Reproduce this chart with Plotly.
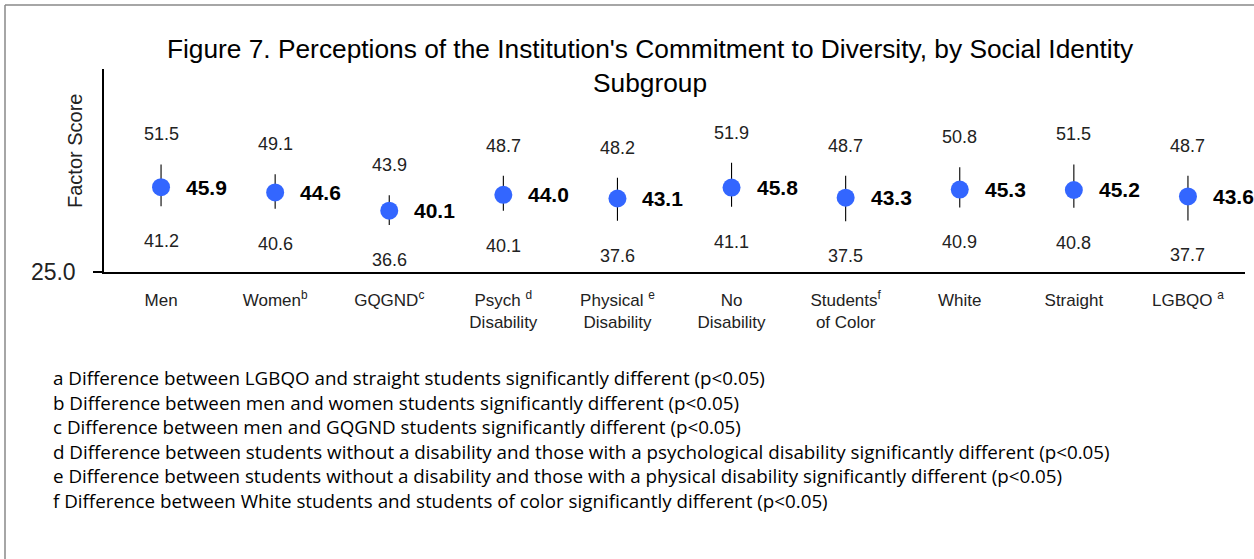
import plotly.graph_objects as go

categories = ["Men", "Women", "GQGND", "Psych Disability", "Physical Disability",
              "No Disability", "Students of Color", "White", "Straight", "LGBQO"]
tick_labels = ["Men", "Women<sup>b</sup>", "GQGND<sup>c</sup>", "Psych <sup>d</sup><br>Disability",
               "Physical <sup>e</sup><br>Disability", "No<br>Disability",
               "Students<sup>f</sup><br>of Color", "White", "Straight", "LGBQO <sup>a</sup>"]
means = [45.9, 44.6, 40.1, 44.0, 43.1, 45.8, 43.3, 45.3, 45.2, 43.6]
upper = [51.5, 49.1, 43.9, 48.7, 48.2, 51.9, 48.7, 50.8, 51.5, 48.7]
lower = [41.2, 40.6, 36.6, 40.1, 37.6, 41.1, 37.5, 40.9, 40.8, 37.7]

footnotes = [
    "a Difference between LGBQO and straight students significantly different (p<0.05)",
    "b Difference between men and women students significantly different (p<0.05)",
    "c Difference between men and GQGND students significantly different (p<0.05)",
    "d Difference between students without a disability and those with a psychological disability significantly different (p<0.05)",
    "e Difference between students without a disability and those with a physical disability significantly different (p<0.05)",
    "f Difference between White students and students of color significantly different (p<0.05)",
]

FONT = "Liberation Sans, Arial, sans-serif"
NOTE_FONT = "Open Sans, sans-serif"
W, H = 1254, 559
x = list(range(len(categories)))

fig = go.Figure()
fig.add_trace(go.Scatter(
    x=x, y=means, mode="markers",
    marker=dict(color="#3366FF", size=18),
    error_y=dict(type="data", symmetric=False,
                 array=[u - m for u, m in zip(upper, means)],
                 arrayminus=[m - l for m, l in zip(means, lower)],
                 color="black", thickness=1.1, width=0),
    showlegend=False, hoverinfo="skip",
))

annotations = []
for i in x:
    annotations.append(dict(x=i, y=upper[i], text=f"{upper[i]:.1f}", showarrow=False,
                            yshift=30, yanchor="middle",
                            font=dict(family=FONT, size=18, color="#222")))
    annotations.append(dict(x=i, y=lower[i], text=f"{lower[i]:.1f}", showarrow=False,
                            yshift=-35, yanchor="middle",
                            font=dict(family=FONT, size=18, color="#222")))
    annotations.append(dict(x=i, y=means[i], text=f"<b>{means[i]:.1f}</b>", showarrow=False,
                            xshift=23, xanchor="left", yanchor="middle", align="left",
                            font=dict(family=FONT, size=21, color="black")))

# footnotes, placed in pixels from the top-left of the page
for k, note in enumerate(footnotes):
    annotations.append(dict(xref="paper", yref="paper",
                            x=(51 - 104) / 1141, y=(272 - (378 + k * 24.6)) / 203,
                            text=note, showarrow=False, xanchor="left", yanchor="middle",
                            align="left",
                            font=dict(family=NOTE_FONT, size=18.8, color="black")))

annotations.append(dict(xref="paper", yref="paper", x=(75 - 104) / 1141, y=(272 - 151) / 203,
                        text="Factor Score", textangle=-90, showarrow=False,
                        xanchor="center", yanchor="middle",
                        font=dict(family=FONT, size=20, color="#222")))

fig.update_layout(
    width=W, height=H,
    margin=dict(l=104, r=9, t=69, b=287),
    paper_bgcolor="white", plot_bgcolor="white",
    title=dict(text="Figure 7. Perceptions of the Institution's Commitment to Diversity, by Social Identity<br>Subgroup",
               x=650 / W, xanchor="center", y=1 - 58 / H, yanchor="top",
               font=dict(family=FONT, size=26.3, color="black")),
    xaxis=dict(range=[-0.5, 9.5], tickvals=x, ticktext=tick_labels, showgrid=False,
               zeroline=False, showline=True, linecolor="black", linewidth=1.5,
               ticks="", ticklabelstandoff=12,
               tickfont=dict(family=FONT, size=17, color="#222")),
    yaxis=dict(range=[25, 75], tickvals=[25], ticktext=["25.0"], showgrid=False,
               zeroline=False, showline=True, linecolor="black", linewidth=1.5,
               ticks="outside", ticklen=9, tickcolor="black", tickwidth=1.5,
               ticklabelstandoff=13,
               tickfont=dict(family=FONT, size=23, color="#222")),
    annotations=annotations,
    shapes=[
        dict(type="line", xref="paper", yref="paper",
             x0=(5 - 104) / 1141, x1=(5 - 104) / 1141, y0=(272 - 5) / 203, y1=(272 - 600) / 203,
             line=dict(color="#888", width=1.5)),
        dict(type="line", xref="paper", yref="paper",
             x0=(5 - 104) / 1141, x1=(1300 - 104) / 1141, y0=(272 - 5) / 203, y1=(272 - 5) / 203,
             line=dict(color="#888", width=1.5)),
    ],
)

fig.write_html("out.html", config={"displayModeBar": False},
               post_script="document.body.style.margin='0';")
